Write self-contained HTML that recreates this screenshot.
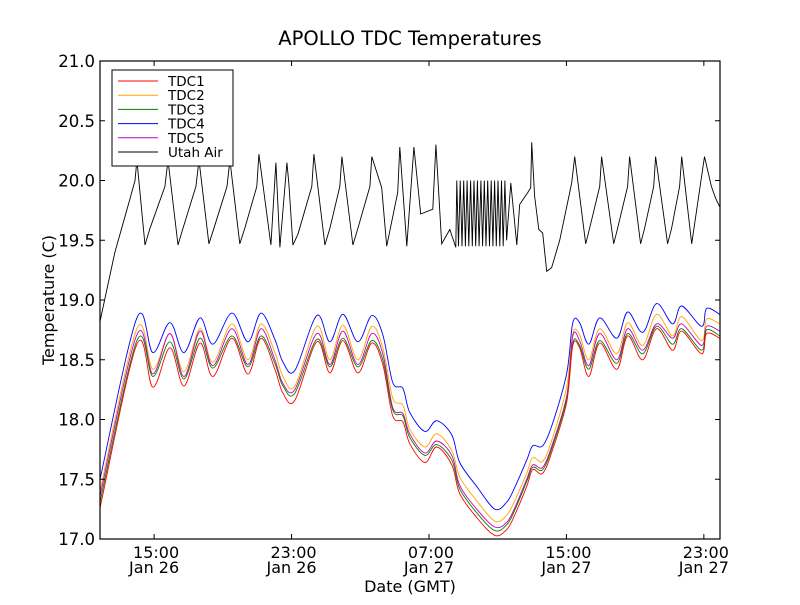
<!DOCTYPE html>
<html><head><meta charset="utf-8"><style>
body{margin:0;background:#fff;}
svg text{font-family:"DejaVu Sans","Liberation Sans",sans-serif;fill:#000;}
</style></head><body>
<svg id="chart" width="800" height="600" xmlns="http://www.w3.org/2000/svg">
<rect x="0" y="0" width="800" height="600" fill="#fff"/>
<text x="410" y="45" font-size="19.5" text-anchor="middle">APOLLO TDC Temperatures</text>
<text x="410" y="592" font-size="16" text-anchor="middle">Date (GMT)</text>
<text transform="translate(54,300) rotate(-90)" font-size="16" text-anchor="middle">Temperature (C)</text>
<g id="series"></g>
<g id="axes"></g>
<g id="legend"></g>
</svg>
<script>
const xTickTimes=[15,23,31,39,47];
const xTickLabels1=["15:00","23:00","07:00","15:00","23:00"];
const xTickLabels2=["Jan 26","Jan 26","Jan 27","Jan 27","Jan 27"];
const yTicks=[17.0,17.5,18.0,18.5,19.0,19.5,20.0,20.5,21.0];
const tdcTimes=[11.85,14.00,14.93,15.92,16.74,17.67,18.42,19.53,20.46,21.22,22.03,22.50,23.19,24.47,25.23,25.99,26.86,27.67,28.31,28.89,29.48,29.88,30.76,31.45,32.33,32.79,33.78,34.83,35.53,35.99,36.69,37.04,37.62,38.20,39.02,39.37,39.77,40.30,40.94,41.93,42.57,43.44,44.25,45.18,45.71,46.87,47.16,47.92];
const tdc4=[17.50,18.85,18.56,18.81,18.56,18.85,18.63,18.89,18.65,18.89,18.67,18.48,18.41,18.87,18.65,18.88,18.65,18.87,18.71,18.31,18.26,18.06,17.90,17.99,17.87,17.64,17.44,17.25,17.31,17.43,17.66,17.78,17.78,17.97,18.39,18.81,18.81,18.63,18.85,18.68,18.90,18.73,18.97,18.80,18.95,18.78,18.93,18.88];
const tdc2=[17.40,18.76,18.42,18.72,18.40,18.76,18.48,18.80,18.50,18.80,18.56,18.36,18.28,18.78,18.50,18.79,18.50,18.78,18.60,18.18,18.12,17.92,17.77,17.88,17.74,17.52,17.32,17.15,17.20,17.32,17.55,17.68,17.65,17.85,18.28,18.72,18.71,18.50,18.76,18.55,18.81,18.62,18.88,18.70,18.86,18.66,18.84,18.80];
const tdc5=[17.36,18.71,18.38,18.72,18.36,18.74,18.45,18.76,18.46,18.76,18.50,18.30,18.25,18.72,18.46,18.74,18.46,18.72,18.55,18.10,18.05,17.88,17.72,17.82,17.70,17.45,17.25,17.10,17.14,17.26,17.50,17.62,17.60,17.80,18.20,18.70,18.66,18.45,18.72,18.50,18.76,18.58,18.80,18.68,18.80,18.62,18.78,18.74];
const tdc3=[17.31,18.66,18.36,18.65,18.34,18.68,18.43,18.70,18.44,18.70,18.47,18.28,18.22,18.67,18.44,18.68,18.44,18.66,18.50,18.08,18.03,17.85,17.70,17.79,17.66,17.42,17.22,17.07,17.12,17.24,17.48,17.60,17.58,17.78,18.18,18.64,18.62,18.42,18.66,18.47,18.72,18.55,18.78,18.63,18.76,18.58,18.75,18.70];
const tdc1=[17.26,18.63,18.27,18.60,18.28,18.64,18.36,18.68,18.38,18.68,18.42,18.22,18.16,18.65,18.39,18.66,18.39,18.64,18.46,18.03,17.98,17.80,17.64,17.77,17.62,17.38,17.18,17.03,17.08,17.20,17.44,17.58,17.55,17.75,18.15,18.62,18.60,18.36,18.64,18.42,18.70,18.50,18.76,18.58,18.74,18.55,18.72,18.68];
const airTimes=[11.85,12.72,13.60,13.89,14.00,14.47,14.76,15.63,15.81,16.39,16.68,17.43,17.61,18.19,18.48,19.24,19.41,19.99,20.28,20.98,21.10,21.80,22.09,22.32,22.73,22.84,23.08,23.37,24.18,24.30,24.94,25.23,25.81,25.93,26.57,26.86,27.56,27.67,28.25,28.54,29.18,29.30,29.71,30.12,30.52,31.22,31.40,31.74,32.21,32.56,
32.62,32.72,32.82,32.92,33.02,33.12,33.22,33.32,33.42,33.52,33.62,33.72,33.82,33.92,34.02,34.12,34.22,34.32,34.42,34.52,34.62,34.72,34.82,34.92,35.02,35.12,35.22,35.32,35.42,35.52,
35.76,36.11,36.28,36.75,36.92,36.98,37.15,37.39,37.62,37.85,38.14,38.61,39.31,39.48,40.12,40.35,40.94,41.05,41.75,41.98,42.56,42.68,43.32,43.55,44.08,44.19,44.89,45.12,45.59,45.71,46.29,47.04,47.44,47.69,47.92];
const airValues=[18.82,19.40,19.85,20.00,20.17,19.46,19.60,19.95,20.17,19.46,19.60,19.95,20.17,19.47,19.60,19.95,20.17,19.47,19.60,19.95,20.22,19.46,20.15,19.44,20.15,19.98,19.46,19.55,19.95,20.22,19.46,19.60,19.95,20.20,19.46,19.60,19.95,20.20,19.94,19.45,19.90,20.28,19.45,20.28,19.72,19.76,20.30,19.47,19.59,19.44,
20.00,19.45,20.00,19.45,20.00,19.45,20.00,19.45,20.00,19.45,20.00,19.45,20.00,19.45,20.00,19.45,20.00,19.45,20.00,19.45,20.00,19.45,20.00,19.45,20.00,19.45,20.00,19.45,20.00,19.50,
19.98,19.46,19.80,19.90,19.94,20.32,19.87,19.59,19.56,19.24,19.27,19.50,19.98,20.20,19.47,19.60,19.95,20.20,19.47,19.60,19.95,20.20,19.47,19.60,19.95,20.20,19.47,19.60,19.95,20.20,19.47,20.20,19.95,19.85,19.78];
const seriesNames=["TDC1","TDC2","TDC3","TDC4","TDC5","Utah Air"];
const seriesColors=["#ff0000","#ffa500","#008000","#0000ff","#bf00bf","#000000"];

const L=100,R=720,T=61,B=539,TMIN=11.85,TMAX=47.94,VMIN=17,VMAX=21;
const NS="http://www.w3.org/2000/svg";
function xs(t){return L+(t-TMIN)/(TMAX-TMIN)*(R-L);}
function ys(v){return B-(v-VMIN)/(VMAX-VMIN)*(B-T);}
function mk(tag,attrs,parent){const e=document.createElementNS(NS,tag);for(const k in attrs)e.setAttribute(k,attrs[k]);parent.appendChild(e);return e;}
function smoothPath(pts){
  let d='M'+pts[0][0].toFixed(1)+','+pts[0][1].toFixed(1);
  for(let i=0;i<pts.length-1;i++){
    const p0=pts[Math.max(0,i-1)],p1=pts[i],p2=pts[i+1],p3=pts[Math.min(pts.length-1,i+2)];
    const c1x=p1[0]+(p2[0]-p0[0])/6,c1y=p1[1]+(p2[1]-p0[1])/6;
    const c2x=p2[0]-(p3[0]-p1[0])/6,c2y=p2[1]-(p3[1]-p1[1])/6;
    d+='C'+c1x.toFixed(1)+','+c1y.toFixed(1)+' '+c2x.toFixed(1)+','+c2y.toFixed(1)+' '+p2[0].toFixed(1)+','+p2[1].toFixed(1);
  }
  return d;
}

const sg=document.getElementById('series');
const allSeries=[[tdcTimes,tdc1],[tdcTimes,tdc2],[tdcTimes,tdc3],[tdcTimes,tdc4],[tdcTimes,tdc5],[airTimes,airValues]];
const drawOrder=[5,3,1,4,2,0];
drawOrder.forEach(i=>{
  const [ts,vs]=allSeries[i];
  const pts=ts.map((t,j)=>[xs(t),ys(vs[j])]);
  const d=i===5?pts.map((p,j)=>(j?'L':'M')+p[0].toFixed(1)+','+p[1].toFixed(1)).join(''):smoothPath(pts);
  const p=mk('path',{d:d,fill:'none',stroke:seriesColors[i],'stroke-width':0.9},sg);
  
  
});

const ax=document.getElementById('axes');
const frame=mk('rect',{x:L,y:T,width:R-L,height:B-T,fill:'none',stroke:'#000','stroke-width':1.2},ax);


yTicks.forEach(v=>{
  const y=ys(v);
  const t1=mk('line',{x1:L,x2:L+5,y1:y,y2:y,stroke:'#000'},ax);
  
  
  const t2=mk('line',{x1:R-5,x2:R,y1:y,y2:y,stroke:'#000'},ax);
  
  
  const tx=mk('text',{x:L-5,y:y+6,'font-size':16.5,'text-anchor':'end'},ax);
  tx.textContent=v.toFixed(1);
  
  
});
xTickTimes.forEach((t,i)=>{
  const x=xs(t);
  const t1=mk('line',{x1:x,x2:x,y1:B,y2:B-5,stroke:'#000'},ax);
  
  
  const t2=mk('line',{x1:x,x2:x,y1:T,y2:T+5,stroke:'#000'},ax);
  
  
  const a=mk('text',{x:x+2,y:B+19,'font-size':16,'text-anchor':'middle'},ax);
  a.textContent=xTickLabels1[i];
  
  
  const b=mk('text',{x:x,y:B+34,'font-size':16,'text-anchor':'middle'},ax);
  b.textContent=xTickLabels2[i];
  
  
});

const lg=document.getElementById('legend');
const box=mk('rect',{x:112,y:70,width:121,height:96,fill:'#fff',stroke:'#000','stroke-width':1},lg);


seriesNames.forEach((n,i)=>{
  const y=81+i*14.2;
  const ln=mk('line',{x1:118,x2:158,y1:y,y2:y,stroke:seriesColors[i],'stroke-width':1},lg);
  
  
  const tx=mk('text',{x:168,y:y+5,'font-size':13.5},lg);
  tx.textContent=n;
  
  
});
</script>
</body></html>
